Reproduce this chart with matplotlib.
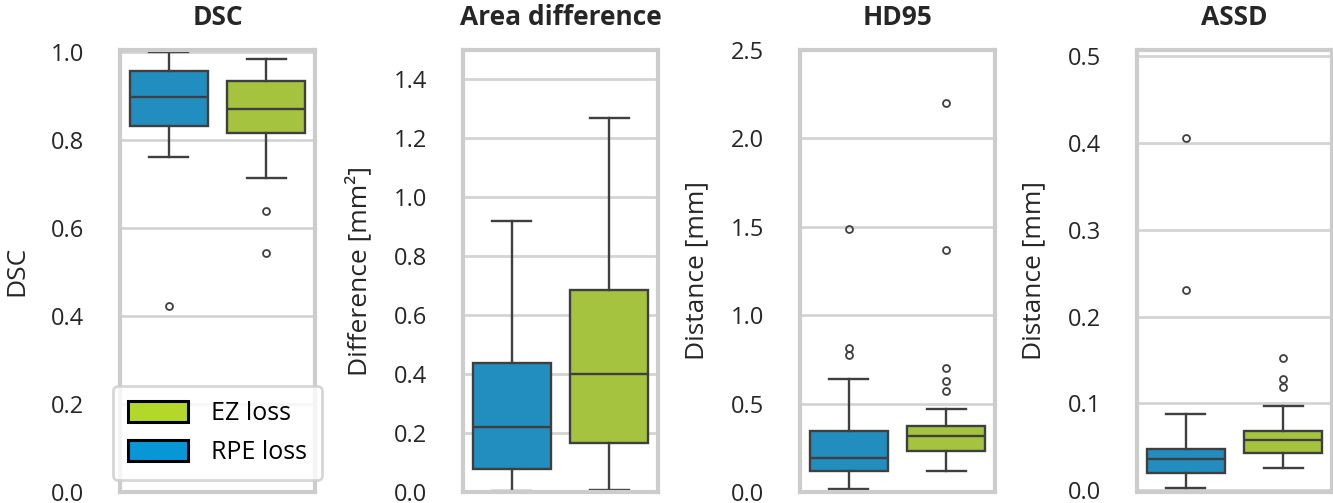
import matplotlib
matplotlib.use("Agg")
import matplotlib.pyplot as plt
from matplotlib.patches import Patch

plt.rcParams['font.family'] = ['Open Sans', 'DejaVu Sans']

# box statistics: [RPE loss, EZ loss]
titles = ["DSC", "Area difference", "HD95", "ASSD"]
ylabels = ["DSC", "Difference [mm\u00b2]", "Distance [mm]", "Distance [mm]"]
ylims = [(0.0, 1.005), (0.0, 1.5), (0.0, 2.5), (-0.002, 0.507)]
yticks = [[0.0, 0.2, 0.4, 0.6, 0.8, 1.0],
          [0.0, 0.2, 0.4, 0.6, 0.8, 1.0, 1.2, 1.4],
          [0.0, 0.5, 1.0, 1.5, 2.0, 2.5],
          [0.0, 0.1, 0.2, 0.3, 0.4, 0.5]]

whislo = [[0.761, 0.713], [0.003, 0.007], [0.015, 0.117], [0.003, 0.026]]
q1 = [[0.832, 0.817], [0.077, 0.167], [0.119, 0.233], [0.020, 0.0433]]
med = [[0.899, 0.870], [0.219, 0.402], [0.191, 0.318], [0.0364, 0.0583]]
q3 = [[0.957, 0.934], [0.438, 0.687], [0.347, 0.371], [0.048, 0.0678]]
whishi = [[1.0, 0.984], [0.919, 1.268], [0.640, 0.472], [0.088, 0.0966]]
fliers = [[[0.423], [0.639, 0.544]],
          [[], []],
          [[1.487, 0.816, 0.773], [2.200, 1.371, 0.703, 0.627, 0.570]],
          [[0.406, 0.231], [0.152, 0.128, 0.119]]]

groups = ["RPE loss", "EZ loss"]
box_colors = ["#228dbf", "#a5c33f"]
legend_colors = {"EZ loss": "#b3d82a", "RPE loss": "#0797d6"}

line_col = "#3f3f3f"
grid_col = "#d4d4d4"
spine_col = "#cccccc"

fig = plt.figure(figsize=(13.33, 5.03), dpi=100)
W, H = 1333.0, 503.0
lefts = [120, 463, 800, 1137]

for i in range(4):
    ax = fig.add_axes([lefts[i] / W, 11 / H, 195 / W, 442 / H])
    stats = []
    for j in range(2):
        stats.append({"med": med[i][j], "q1": q1[i][j], "q3": q3[i][j],
                      "whislo": whislo[i][j], "whishi": whishi[i][j],
                      "fliers": fliers[i][j], "label": groups[j]})
    bp = ax.bxp(stats, positions=[0, 1], widths=0.8, patch_artist=True,
                boxprops=dict(edgecolor=line_col, linewidth=1.7),
                medianprops=dict(color=line_col, linewidth=1.7),
                whiskerprops=dict(color=line_col, linewidth=1.7),
                capprops=dict(color=line_col, linewidth=1.7),
                flierprops=dict(marker='o', markersize=5, markerfacecolor='none',
                                markeredgecolor=line_col, markeredgewidth=1.3))
    for patch, c in zip(bp['boxes'], box_colors):
        patch.set_facecolor(c)
    ax.set_xlim(-0.5, 1.5)
    ax.set_ylim(*ylims[i])
    ax.set_yticks(yticks[i])
    ax.set_yticklabels(["%.1f" % t for t in yticks[i]])
    ax.set_xticks([])
    ax.tick_params(axis='y', length=0, pad=26, labelsize=17, labelcolor='#262626')
    ax.yaxis.grid(True, color=grid_col, linewidth=2)
    ax.set_axisbelow(True)
    for s in ax.spines.values():
        s.set_color(spine_col)
        s.set_linewidth(3)
    ax.set_title(titles[i], fontsize=19, fontweight='bold', color='#262626', pad=18)
    ax.set_ylabel(ylabels[i], fontsize=19, color='#262626', labelpad=15)

    if i == 0:
        handles = [Patch(facecolor=legend_colors[k], edgecolor='black', linewidth=2.2)
                   for k in ["EZ loss", "RPE loss"]]
        leg = ax.legend(handles, ["EZ loss", "RPE loss"], loc='lower center',
                        bbox_to_anchor=(0.5, 0.027), borderaxespad=0, fontsize=18,
                        handlelength=2.4, handleheight=0.9, handletextpad=0.9,
                        labelspacing=0.55, borderpad=0.6, frameon=True, fancybox=True)
        leg.get_frame().set_edgecolor(spine_col)
        leg.get_frame().set_linewidth(2)

fig.savefig("out.png", dpi=100)
